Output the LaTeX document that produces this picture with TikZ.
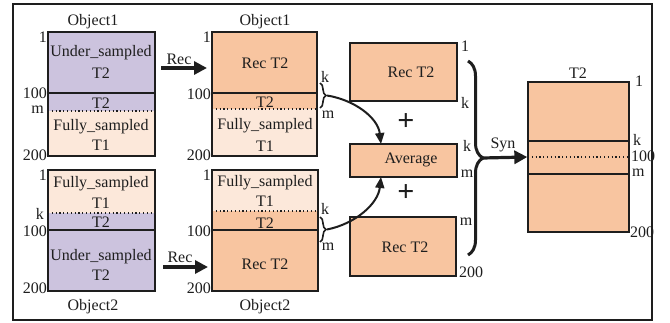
\documentclass[tikz,border=0pt]{standalone}
\usepackage{fontspec}
\setmainfont{Liberation Serif}
\usetikzlibrary{arrows.meta,decorations.pathreplacing}
\definecolor{lav}{HTML}{CCC3DE}
\definecolor{org}{HTML}{F8C5A0}
\definecolor{pch}{HTML}{FCE8DA}
\definecolor{ink}{HTML}{1E1E1E}
\begin{document}
\begin{tikzpicture}[x=1pt,y=-1pt,
  boxline/.style={draw=ink, line width=1.3pt, inner sep=0pt},
  txt/.style={font=\fontsize{16}{18}\selectfont, text=ink, inner sep=0pt},
  sol/.style={draw=ink, line width=1.3pt},
  dotl/.style={draw=ink, line width=1.1pt, dash pattern=on 1.2pt off 2.6pt},
  bigarrow/.style={draw=ink, line width=3.2pt, -{Triangle[length=13pt,width=13pt]}},
  curvarrow/.style={draw=ink, line width=2pt, -{Triangle[length=11pt,width=9pt]}},
  smallbrace/.style={draw=ink, line width=1.6pt, decorate, decoration={brace, amplitude=6pt}},
  bigbrace/.style={draw=ink, line width=3pt, decorate, decoration={brace, amplitude=15pt, aspect=0.5}},
  plus/.style={font=\fontsize{30}{30}\selectfont\bfseries, text=ink, inner sep=0pt}
]
\useasboundingbox (0,0) rectangle (670,323);
\draw[ink, line width=1.4pt] (13,4) rectangle (652,320);

% ---------- Object1 ----------
\fill[lav] (48,32) rectangle (155,111);
\fill[pch] (48,111) rectangle (155,156);
\draw[sol] (48,93) -- (155,93);
\draw[dotl] (48,111) -- (155,111);
\node[boxline, minimum width=107pt, minimum height=124pt] (o1) at (101.5,94) {};
\node[txt] (o1t) at (93,22) {Object1};
\node[txt] at (101,53) {Under\_sampled};
\node[txt] at (101,73) {T2};
\node[txt] at (101,103) {T2};
\node[txt] at (101,127) {Fully\_sampled};
\node[txt] at (101,145) {T1};
\node[txt, anchor=east] at (47,37) {1};
\node[txt, anchor=east] at (47,93) {100};
\node[txt, anchor=east] at (44,110) {m};
\node[txt, anchor=east] at (47,155) {200};

% ---------- Rec 1 ----------
\fill[org] (212,32) rectangle (317,109);
\fill[pch] (212,109) rectangle (317,156);
\draw[sol] (212,93) -- (317,93);
\draw[dotl] (212,109) -- (317,109);
\node[boxline, minimum width=105pt, minimum height=124pt] (r1) at (264.5,94) {};
\node[txt] (r1t) at (265,22) {Object1};
\node[txt] at (265,63) {Rec T2};
\node[txt] at (265,102) {T2};
\node[txt] at (265,126) {Fully\_sampled};
\node[txt] at (265,146) {T1};
\node[txt, anchor=east] at (211,37) {1};
\node[txt, anchor=east] at (211,94) {100};
\node[txt, anchor=east] at (211,155) {200};
\draw[smallbrace] (320,83) -- (320,108);
\coordinate (b1) at (327,95.5);
\node[txt] at (325,77) {k};
\node[txt] at (328,115) {m};

% ---------- Object2 ----------
\fill[pch] (48,170) rectangle (155,213);
\fill[lav] (48,213) rectangle (155,291);
\draw[dotl] (48,213) -- (155,213);
\draw[sol] (48,230) -- (155,230);
\node[boxline, minimum width=107pt, minimum height=121pt] (o2) at (101.5,230.5) {};
\node[txt] (o2t) at (93,307) {Object2};
\node[txt] at (101,184) {Fully\_sampled};
\node[txt] at (101,203) {T1};
\node[txt] at (101,222) {T2};
\node[txt] at (101,257) {Under\_sampled};
\node[txt] at (101,275) {T2};
\node[txt, anchor=east] at (47,175) {1};
\node[txt, anchor=east] at (44,214) {k};
\node[txt, anchor=east] at (47,231) {100};
\node[txt, anchor=east] at (47,288) {200};

% ---------- Rec 2 ----------
\fill[pch] (212,170) rectangle (318,211);
\fill[org] (212,211) rectangle (318,291);
\draw[dotl] (212,211) -- (318,211);
\draw[sol] (212,230) -- (318,230);
\node[boxline, minimum width=106pt, minimum height=121pt] (r2) at (265,230.5) {};
\node[txt] (r2t) at (265,307) {Object2};
\node[txt] at (265,183) {Fully\_sampled};
\node[txt] at (265,201) {T1};
\node[txt] at (265,223) {T2};
\node[txt] at (265,264) {Rec T2};
\node[txt, anchor=east] at (211,175) {1};
\node[txt, anchor=east] at (211,231) {100};
\node[txt, anchor=east] at (211,288) {200};
\draw[smallbrace] (320,217) -- (320,242);
\coordinate (b2) at (327,229.5);
\node[txt] at (325,209) {k};
\node[txt] at (328,247) {m};

% ---------- Rec arrows ----------
\coordinate (ra1) at (161,68);
\coordinate (ra1e) at (207,68);
\draw[bigarrow] (ra1) -- (ra1e);
\node[txt] at (179,59) {Rec};
\coordinate (ra2) at (163,267);
\coordinate (ra2e) at (208,267);
\draw[bigarrow] (ra2) -- (ra2e);
\node[txt] at (180,257) {Rec};

% ---------- middle column ----------
\node[boxline, fill=org, minimum width=107pt, minimum height=58pt] (a1) at (403.5,72) {};
\node[txt] at (411,72) {Rec T2};
\node[boxline, fill=org, minimum width=107pt, minimum height=33pt] (av) at (403.5,160.5) {};
\node[txt] at (411,160) {Average};
\node[boxline, fill=org, minimum width=106pt, minimum height=59pt] (a3) at (403,246.5) {};
\node[txt] at (405,247) {Rec T2};
\node[plus] at (406,122) {+};
\node[plus] at (406,193) {+};
\node[txt] at (465,46) {1};
\node[txt] at (465,103) {k};
\node[txt] at (467,146) {k};
\node[txt] at (467,174) {m};
\node[txt] at (466,222) {m};
\node[txt] at (471,272) {200};

\coordinate (avt) at (381,144);
\coordinate (avb) at (381,177);
\draw[curvarrow] (b1) .. controls (355,100) and (378,118) .. (avt);
\draw[curvarrow] (b2) .. controls (355,224) and (378,204) .. (avb);

% ---------- big brace and Syn ----------
\draw[bigbrace] (468,61) -- (468,255);
\coordinate (bt) at (483,158);
\node[txt] at (503,145) {Syn};

% ---------- T2 result ----------
\fill[org] (528,82) rectangle (629,232);
\draw[sol] (528,141) -- (629,141);
\draw[dotl] (528,157) -- (629,157);
\draw[sol] (528,174) -- (629,174);
\node[boxline, minimum width=101pt, minimum height=150pt] (t2) at (578.5,157) {};
\node[txt] at (578,73) {T2};
\draw[bigarrow] (bt) -- (t2.west);
\node[txt, anchor=west] at (635,81) {1};
\node[txt, anchor=west] at (633,140) {k};
\node[txt, anchor=west] at (631,156) {100};
\node[txt, anchor=west] at (632,173) {m};
\node[txt, anchor=west] at (630,232) {200};
\end{tikzpicture}
\end{document}
